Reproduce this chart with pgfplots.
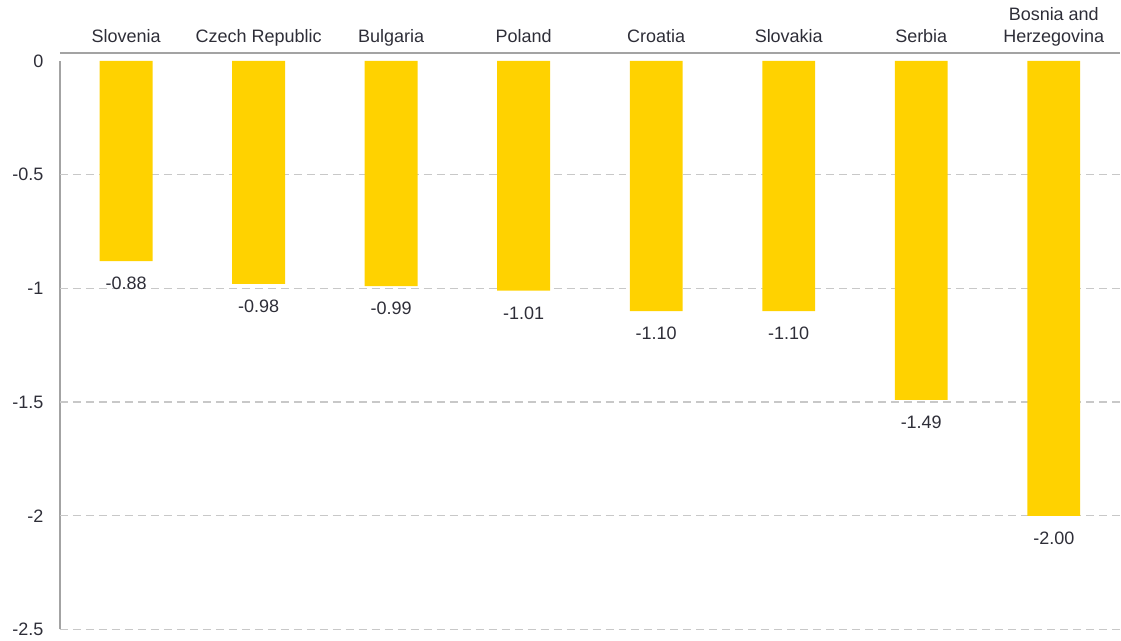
\documentclass[border=0pt]{standalone}
\usepackage{pgfplots}
\pgfplotsset{compat=1.18}
\usepackage{pgfplotstable}
\usepackage{fontspec}
\setmainfont{Liberation Sans}
\definecolor{bary}{HTML}{FFD200}
\definecolor{axgray}{HTML}{A3A3A3}
\definecolor{gridgray}{HTML}{C8C8C8}
\definecolor{txt}{HTML}{2E2E38}
\pgfplotstableread{
x y lab
0 -0.88 -0.88
1 -0.98 -0.98
2 -0.99 -0.99
3 -1.01 -1.01
4 -1.10 -1.10
5 -1.10 -1.10
6 -1.49 -1.49
7 -2.00 -2.00
}\datatable
\begin{document}
\begin{tikzpicture}
\begin{axis}[
  scale only axis,
  width=1061pt, height=569pt,
  xmin=-0.5, xmax=7.5,
  ymin=-2.5, ymax=0,
  clip=false,
  axis x line=none,
  axis y line*=left,
  y axis line style={draw=axgray, line width=2pt, -},
  ytick={0,-0.5,-1,-1.5,-2,-2.5},
  yticklabels={0,-0.5,-1,-1.5,-2,-2.5},
  major tick length=0pt,
  ytick style={draw=none},
  yticklabel style={font=\fontsize{18}{22}\selectfont, text=txt, anchor=east, xshift=-13pt},
  extra y ticks={-0.5,-1,-1.5,-2,-2.5},
  extra y tick labels={},
  extra y tick style={grid=major, major grid style={draw=gridgray, line width=1.2pt, dash pattern=on 8pt off 5pt}},
  ybar, bar width=53pt,
  nodes near coords,
  point meta=explicit symbolic,
  nodes near coords style={font=\fontsize{18}{22}\selectfont, text=txt, anchor=north, yshift=-12.5pt},
]
\addplot[fill=bary, draw=none] table[x=x, y=y, meta=lab] {\datatable};
\draw[axgray, line width=2pt] ([yshift=8pt]rel axis cs:0,1) -- ([yshift=8pt]rel axis cs:1,1);
\foreach \i/\name in {0/Slovenia,1/Czech Republic,2/Bulgaria,3/Poland,4/Croatia,5/Slovakia,6/Serbia,7/{Bosnia and\\Herzegovina}}{
  \edef\temp{\noexpand\node[font=\noexpand\fontsize{18}{22}\noexpand\selectfont, text=txt, align=center, anchor=south, inner sep=0pt, text depth=0pt] at ([yshift=18pt]axis cs:\i,0) {\unexpanded\expandafter{\name}};}
  \temp
}
\path ([xshift=-60pt, yshift=-11pt]rel axis cs:0,0) ([yshift=61pt]rel axis cs:1,1);
\end{axis}
\end{tikzpicture}
\end{document}
